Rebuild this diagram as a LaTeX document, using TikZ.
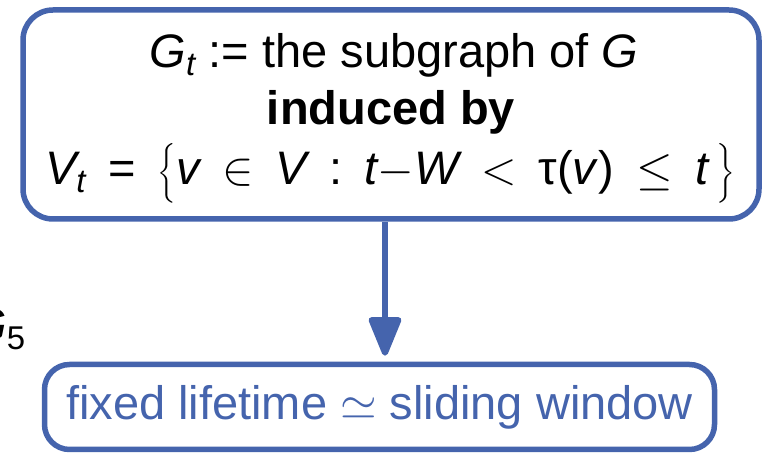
\RequirePackage{fix-cm}
\documentclass[tikz,border=0pt]{standalone}
\usepackage{amsmath}
\usepackage{fontspec}
\setmainfont{Liberation Sans}
\usetikzlibrary{arrows.meta,calc}
\definecolor{boxblue}{RGB}{69,100,173}
\newcommand{\vi}[1]{\textit{#1}}
\begin{document}
\begin{tikzpicture}[x=1pt,y=1pt,
  roundbox/.style={draw=boxblue,line width=5.5pt,rectangle,inner sep=0pt},
  bigtext/.style={font=\fontsize{47}{57}\selectfont},
  link/.style={draw=boxblue,line width=6pt,-{Triangle[width=34pt,length=44pt,round]}}]
\useasboundingbox (0,0) rectangle (769,457);
\node[roundbox,rounded corners=30pt,minimum width=736pt,minimum height=209pt] (top) at (391,342.5) {};
\node[bigtext,anchor=base] (l1) at (394,389) {$\vi{G}_{\vi{t}}$ := the subgraph of \vi{G}};
\node[bigtext,anchor=base] (l2) at (391,332) {\textbf{induced by}};
\node[bigtext,anchor=base] (l3) at (390,272) {\thickmuskip=8.5mu $\vi{V}_{\vi{t}} \mathrel{\text{=}} \bigl\{\vi{v} \in \vi{V} \mathrel{\text{:}} \vi{t}{-}\vi{W} < \text{τ(\vi{v})} \leq \vi{t}\,\bigr\}$};
\node[roundbox,rounded corners=25pt,minimum width=670pt,minimum height=85pt,bigtext,text=boxblue] (bot) at (379.5,50) {fixed lifetime $\simeq$ sliding window};
\coordinate (ax) at (385,0);
\draw[link,shorten >=6pt] (top.south -| ax) -- (bot.north -| ax);
\node[bigtext,anchor=base west,inner sep=0pt] (g5) at (-30,115) {$\vi{G}_{\text{5}}$};
\end{tikzpicture}
\end{document}
